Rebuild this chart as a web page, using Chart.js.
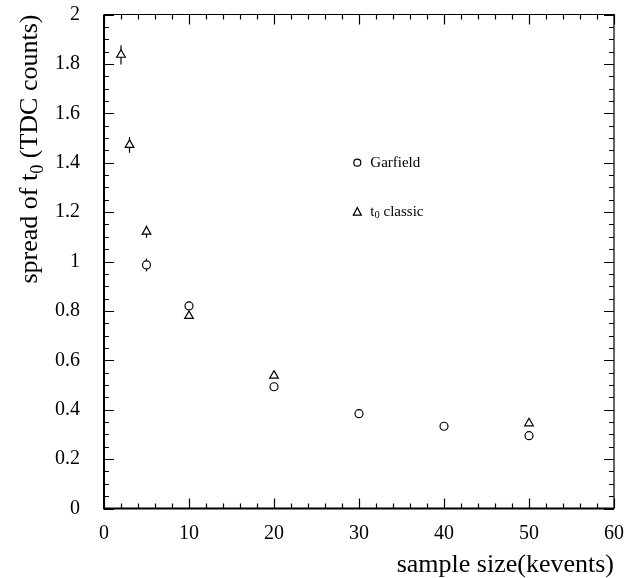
<!DOCTYPE html>
<html>
<head>
<meta charset="utf-8">
<script src="https://cdn.jsdelivr.net/npm/chart.js@4"></script>
<style>
  html, body { margin: 0; padding: 0; background: #fff; }
  #wrap { width: 625px; height: 578px; }
</style>
</head>
<body>
<div id="wrap"><canvas id="chart" width="625" height="578"></canvas></div>
<script>
// sample size (kevents) and spread of t0 (TDC counts)
const garfieldX = [5, 10, 20, 30, 40, 50];
const garfieldY = [0.986, 0.82, 0.493, 0.384, 0.333, 0.295];
const garfieldErr = [0.026, 0.015, 0.006, 0.005, 0.005, 0.005];

const classicX = [2, 3, 5, 10, 20, 50];
const classicY = [1.837, 1.472, 1.121, 0.78, 0.538, 0.345];
const classicErr = [0.039, 0.032, 0.025, 0.01, 0.006, 0.006];

const xTicks = [0, 10, 20, 30, 40, 50, 60];
const yTicks = [0, 0.2, 0.4, 0.6, 0.8, 1, 1.2, 1.4, 1.6, 1.8, 2];

const FONT = "'Liberation Serif', 'Times New Roman', serif";

function points(xs, ys) {
  return xs.map((x, i) => ({ x: x, y: ys[i] }));
}

// text with a subscript part: parts = [[text, isSub], ...]
function subText(ctx, parts, size, x, y, align) {
  let total = 0;
  parts.forEach(p => {
    ctx.font = (p[1] ? size * 0.7 : size) + "px " + FONT;
    total += ctx.measureText(p[0]).width;
  });
  let cx = align === "right" ? x - total : x;
  ctx.textAlign = "left";
  parts.forEach(p => {
    ctx.font = (p[1] ? size * 0.7 : size) + "px " + FONT;
    ctx.fillText(p[0], cx, p[1] ? y + size * 0.22 : y);
    cx += ctx.measureText(p[0]).width;
  });
}

// error bars, drawn under the markers
const errorBars = {
  id: "errorBars",
  beforeDatasetsDraw(chart) {
    const { ctx, scales } = chart;
    const errs = [garfieldErr, classicErr];
    ctx.save();
    ctx.strokeStyle = "#000";
    ctx.lineWidth = 1.2;
    chart.data.datasets.forEach((ds, di) => {
      ds.data.forEach((p, i) => {
        const px = scales.x.getPixelForValue(p.x);
        ctx.beginPath();
        ctx.moveTo(px, scales.y.getPixelForValue(p.y - errs[di][i]));
        ctx.lineTo(px, scales.y.getPixelForValue(p.y + errs[di][i]));
        ctx.stroke();
      });
    });
    ctx.restore();
  }
};

// frame, inward ticks on all sides, y title and the in-plot legend
const frame = {
  id: "frame",
  afterDraw(chart) {
    const { ctx, chartArea: a, scales } = chart;
    ctx.save();
    ctx.strokeStyle = "#000";

    ctx.lineWidth = 1.2;
    ctx.beginPath();
    ctx.moveTo(a.left, a.top); ctx.lineTo(a.right, a.top); ctx.lineTo(a.right, a.bottom);
    ctx.stroke();
    ctx.lineWidth = 2;
    ctx.beginPath();
    ctx.moveTo(a.left, a.top); ctx.lineTo(a.left, a.bottom); ctx.lineTo(a.right, a.bottom);
    ctx.stroke();

    ctx.lineWidth = 1.2;
    ctx.beginPath();
    for (let v = 0; v <= 60; v += 2) {
      const px = Math.round(scales.x.getPixelForValue(v)) + 0.5;
      const len = v % 10 === 0 ? 10 : 5;
      ctx.moveTo(px, a.bottom); ctx.lineTo(px, a.bottom - len);
      ctx.moveTo(px, a.top); ctx.lineTo(px, a.top + len);
    }
    for (let k = 0; k <= 40; k++) {
      const py = Math.round(scales.y.getPixelForValue(k * 0.05)) + 0.5;
      const len = k % 4 === 0 ? 10 : 5;
      ctx.moveTo(a.left, py); ctx.lineTo(a.left + len, py);
      ctx.moveTo(a.right, py); ctx.lineTo(a.right - len, py);
    }
    ctx.stroke();

    // y axis title
    ctx.fillStyle = "#000";
    ctx.textBaseline = "alphabetic";
    ctx.save();
    ctx.translate(37, a.top);
    ctx.rotate(-Math.PI / 2);
    subText(ctx, [["spread of t", false], ["0", true], [" (TDC counts)", false]], 26, 0, 0, "right");
    ctx.restore();

    // legend
    const lx = scales.x.getPixelForValue(29.8);
    const ly1 = scales.y.getPixelForValue(1.4);
    const ly2 = scales.y.getPixelForValue(1.2);
    ctx.lineWidth = 1.2;
    ctx.beginPath();
    ctx.arc(lx, ly1, 3.5, 0, Math.PI * 2);
    ctx.stroke();
    ctx.beginPath();
    ctx.moveTo(lx, ly2 - 4.5);
    ctx.lineTo(lx + 4, ly2 + 3);
    ctx.lineTo(lx - 4, ly2 + 3);
    ctx.closePath();
    ctx.stroke();
    ctx.textBaseline = "middle";
    subText(ctx, [["Garfield", false]], 15, lx + 13, ly1, "left");
    subText(ctx, [["t", false], ["0", true], [" classic", false]], 15, lx + 13, ly2, "left");
    ctx.restore();
  }
};

const fmt = v => String(Math.round(v * 10) / 10);

new Chart(document.getElementById("chart"), {
  type: "scatter",
  data: {
    datasets: [
      {
        label: "Garfield",
        data: points(garfieldX, garfieldY),
        pointStyle: "circle",
        pointRadius: 4,
        borderColor: "#000",
        backgroundColor: "#fff",
        borderWidth: 1.2
      },
      {
        label: "t0 classic",
        data: points(classicX, classicY),
        pointStyle: "triangle",
        pointRadius: 5,
        borderColor: "#000",
        backgroundColor: "#fff",
        borderWidth: 1.2
      }
    ]
  },
  options: {
    responsive: false,
    animation: false,
    layout: { padding: { top: 14.5, right: 11, left: 0, bottom: 0 } },
    plugins: {
      legend: { display: false },
      tooltip: { enabled: false }
    },
    scales: {
      x: {
        type: "linear",
        min: 0,
        max: 60,
        afterBuildTicks: s => { s.ticks = xTicks.map(v => ({ value: v })); },
        afterFit: s => { s.height = 69.5; s.paddingLeft = 0; s.paddingRight = 0; },
        grid: { display: false, drawTicks: false },
        border: { display: false },
        ticks: { color: "#000", padding: 13, callback: fmt, font: { family: FONT, size: 20 } },
        title: {
          display: true,
          text: "sample size(kevents)",
          align: "end",
          color: "#000",
          padding: { top: 0, bottom: -3 },
          font: { family: FONT, size: 26 }
        }
      },
      y: {
        type: "linear",
        min: 0,
        max: 2,
        afterBuildTicks: s => { s.ticks = yTicks.map(v => ({ value: v })); },
        afterFit: s => { s.width = 104; s.paddingTop = 0; s.paddingBottom = 0; },
        grid: { display: false, drawTicks: false },
        border: { display: false },
        ticks: { color: "#000", padding: 24, callback: fmt, font: { family: FONT, size: 20 } }
      }
    }
  },
  plugins: [errorBars, frame]
});
</script>
</body>
</html>
